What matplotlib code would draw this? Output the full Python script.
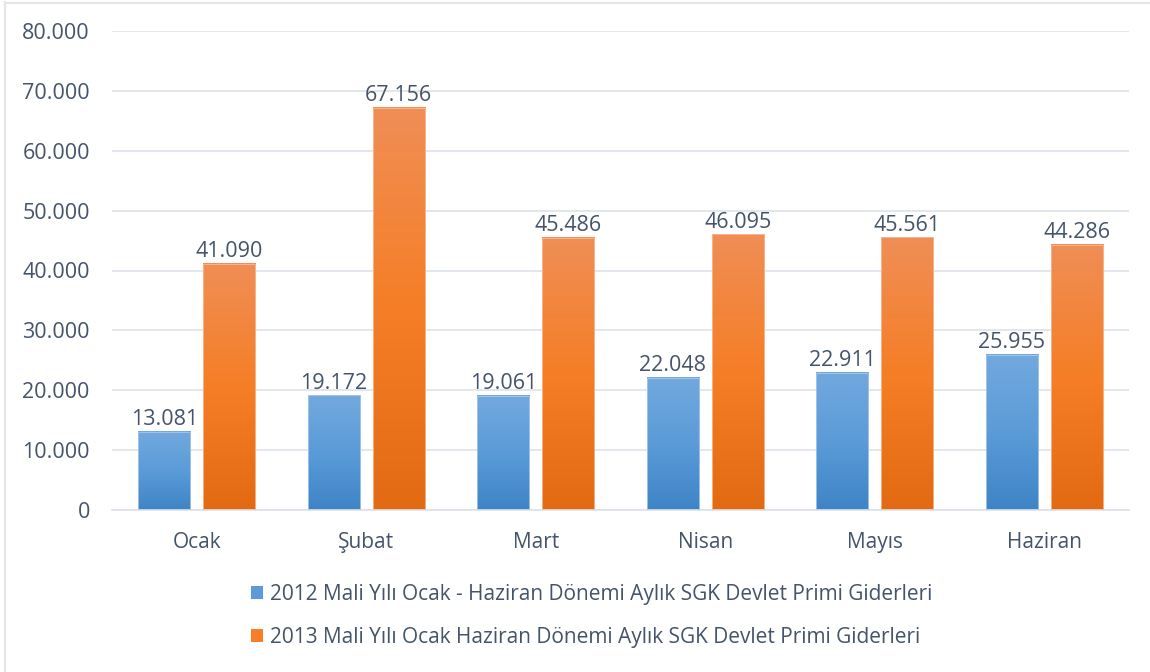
import numpy as np
import matplotlib
matplotlib.use("Agg")
import matplotlib.pyplot as plt
from matplotlib.colors import LinearSegmentedColormap
from matplotlib.patches import Patch
from matplotlib.lines import Line2D

months = ["Ocak", "Şubat", "Mart", "Nisan", "Mayıs", "Haziran"]
values_2012 = [13081, 19172, 19061, 22048, 22911, 25955]
values_2013 = [41090, 67156, 45486, 46095, 45561, 44286]
series_names = [
    "2012 Mali Yılı Ocak - Haziran Dönemi Aylık SGK Devlet Primi Giderleri",
    "2013 Mali Yılı Ocak Haziran Dönemi Aylık SGK Devlet Primi Giderleri",
]
yticks = [0, 10000, 20000, 30000, 40000, 50000, 60000, 70000, 80000]

plt.rcParams['font.family'] = ['Open Sans', 'DejaVu Sans']
text_color = "#44546A"

fig = plt.figure(figsize=(11.5, 6.72), dpi=100)
ax = fig.add_axes([112/1150, 1 - 510/672, (1129-112)/1150, (510-31)/672])

blue_cmap = LinearSegmentedColormap.from_list("b", ["#3E84C6", "#5B9BD8", "#72A9DE"])
orange_cmap = LinearSegmentedColormap.from_list("o", ["#E26A12", "#F57E26", "#F08E56"])
grad = np.linspace(0, 1, 256).reshape(-1, 1)

x = np.arange(len(months))
w = 0.307
gap = 0.077
off = (w + gap) / 2

for vals, cmap, sign, edge in [(values_2012, blue_cmap, -1, "#A9CAEC"),
                               (values_2013, orange_cmap, 1, "#F7BC96")]:
    bars = ax.bar(x + sign * off, vals, w, color="none", edgecolor=edge, linewidth=0.6, zorder=3)
    for b, v in zip(bars, vals):
        x0 = b.get_x()
        ax.imshow(grad, extent=[x0, x0 + w, 0, v], origin="lower", cmap=cmap,
                  aspect="auto", zorder=2, interpolation="bilinear")
        ax.text(x0 + w / 2, v + 250, f"{v:,}".replace(",", "."), ha="center", va="bottom",
                fontsize=15.5, color=text_color, zorder=4)

ax.set_xlim(-0.5, len(months) - 0.5)
ax.set_ylim(0, 80000)
ax.set_yticks(yticks)
ax.set_yticklabels([f"{t:,}".replace(",", ".") for t in yticks])
ax.set_xticks(x)
ax.set_xticklabels(months)
ax.tick_params(axis="y", length=0, labelsize=15.5, labelcolor=text_color, pad=16)
ax.tick_params(axis="x", length=0, labelsize=15, labelcolor=text_color, pad=16)
ax.grid(axis="y", color="#DDE2EA", linewidth=1.2, zorder=0)
ax.set_axisbelow(True)
for s in ["top", "right", "left"]:
    ax.spines[s].set_visible(False)
ax.spines["bottom"].set_color("#DDE2EA")
ax.spines["bottom"].set_linewidth(1.2)

handles = [Patch(facecolor="#5B9BD8", edgecolor="none"),
           Patch(facecolor="#F57E26", edgecolor="none")]
leg = fig.legend(handles, series_names, loc="center", bbox_to_anchor=(592/1150, 1 - 616/672),
                 ncol=1, frameon=False, fontsize=15, labelcolor=text_color,
                 handlelength=0.55, handleheight=0.55, handletextpad=0.35, labelspacing=1.05)

# light frame on left and top
fig.add_artist(Line2D([5/1150, 5/1150], [0, 1 - 2/672], transform=fig.transFigure,
                      color="#E3E6EA", linewidth=1.5))
fig.add_artist(Line2D([5/1150, 1], [1 - 3/672, 1 - 3/672], transform=fig.transFigure,
                      color="#E3E6EA", linewidth=1.5))

fig.savefig("out.png", dpi=100)
